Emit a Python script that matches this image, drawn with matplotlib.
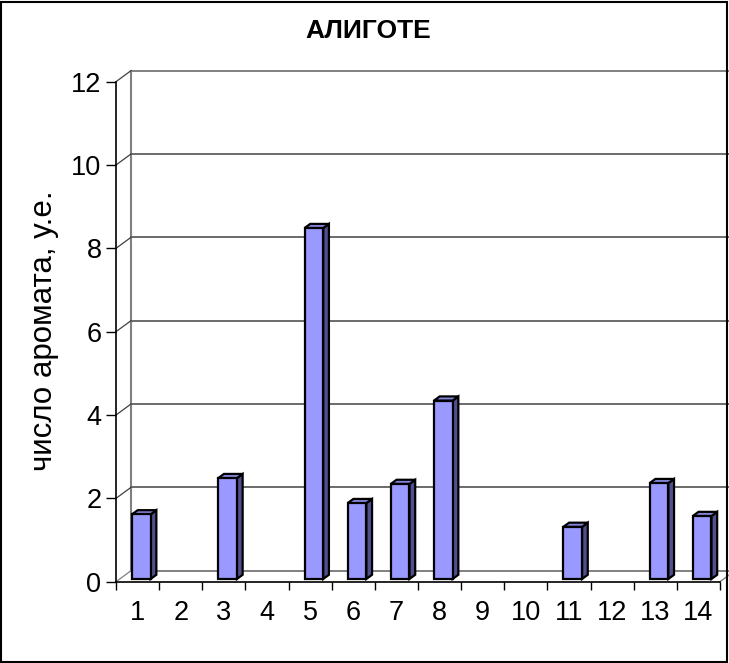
import matplotlib
matplotlib.use('Agg')
import matplotlib.pyplot as plt
from matplotlib.patches import Polygon, Rectangle

# ---- Data ----
categories = [str(i) for i in range(1, 15)]
values = [1.55, 0, 2.42, 0, 8.42, 1.82, 2.28, 4.28, 0, 0, 1.25, 0, 2.30, 1.51]
yticks = [0, 2, 4, 6, 8, 10, 12]
title = 'АЛИГОТЕ'
ylabel = 'число аромата, у.е.'

plt.rcParams['font.family'] = ['Liberation Sans', 'DejaVu Sans']

W, H = 729, 663
fig = plt.figure(figsize=(W / 100, H / 100), dpi=100)

# pixel geometry of the plot box (front plane)
X0, Y0 = 116, 581.7          # front origin in pixels
SX, SY = 43.14, 41.67        # px per category / per value unit
XMAX, YMAX = 14.4, 12.5
ax = fig.add_axes([X0 / W, (H - Y0) / H, XMAX * SX / W, YMAX * SY / H])
ax.set_xlim(0, XMAX)
ax.set_ylim(0, YMAX)

# depth offset of the pseudo 3D box, in data units
DX, DY = 15 / SX, 11 / SY
n = len(categories)
wall_col = '#808080'

# back wall: left edge, gridlines and the diagonals to the front ticks
ax.plot([DX, DX], [DY, 12 + DY], color=wall_col, lw=1.5, clip_on=False, zorder=1)
for v in yticks:
    ax.plot([DX, XMAX + 1], [v + DY, v + DY], color=wall_col if v in (0, 12) else '#6a6a6a',
            lw=1.4, clip_on=False, zorder=1)
    ax.plot([0, DX], [v, v + DY], color='#404040' if v else wall_col, lw=0.9,
            clip_on=False, zorder=1)
# floor right corner
ax.plot([n, n + DX], [0, DY], color=wall_col, lw=1.0, clip_on=False, zorder=1)

# bars as pseudo 3D columns
f0, f1 = 0.25, 0.63
bw = 0.433
for i, v in enumerate(values):
    if v <= 0:
        continue
    x = i + (1 - bw) / 2 + f0 * DX
    y = f0 * DY
    ddx, ddy = (f1 - f0) * DX, (f1 - f0) * DY
    front = Rectangle((x, y), bw, v, facecolor='#9999FF', edgecolor='black', lw=1.6, zorder=3)
    side = Polygon([(x + bw, y), (x + bw + ddx, y + ddy), (x + bw + ddx, y + v + ddy), (x + bw, y + v)],
                   closed=True, facecolor='#50508F', edgecolor='black', lw=1.6, zorder=3)
    top = Polygon([(x, y + v), (x + ddx, y + v + ddy), (x + bw + ddx, y + v + ddy), (x + bw, y + v)],
                  closed=True, facecolor='#8585DD', edgecolor='black', lw=1.6, zorder=3)
    for p in (side, top, front):
        ax.add_patch(p)

# axes / ticks
for s in ('top', 'right'):
    ax.spines[s].set_visible(False)
ax.spines['left'].set_bounds(0, 12)
ax.spines['bottom'].set_bounds(0, n)
ax.spines['left'].set_linewidth(1.2)
ax.spines['bottom'].set_linewidth(1.2)
ax.spines['left'].set_zorder(4)
ax.spines['bottom'].set_zorder(4)

ax.set_yticks(yticks)
ax.set_yticklabels([str(v) for v in yticks])
ax.tick_params(axis='y', length=7, width=1, pad=3.5, labelsize=19.5)

ax.set_xticks(range(n + 1))
ax.set_xticklabels([])
ax.set_xticks([i + 0.5 for i in range(n)], minor=True)
ax.set_xticklabels(categories, minor=True)
ax.tick_params(axis='x', which='major', length=6, width=1)
ax.tick_params(axis='x', which='minor', length=0, pad=13, labelsize=19.5)

fig.text(368.5 / W, 1 - 31 / H, title, ha='center', va='center', fontsize=19, fontweight='bold')
fig.text(44 / W, 1 - 331 / H, ylabel, ha='center', va='center', rotation=90, fontsize=22.5)

# chart border
fig.patches.append(Rectangle((1 / W, 1 / H), (W - 3) / W, (H - 3) / H, transform=fig.transFigure,
                             fill=False, edgecolor='black', lw=1.5))

fig.savefig('out.png', dpi=100)
